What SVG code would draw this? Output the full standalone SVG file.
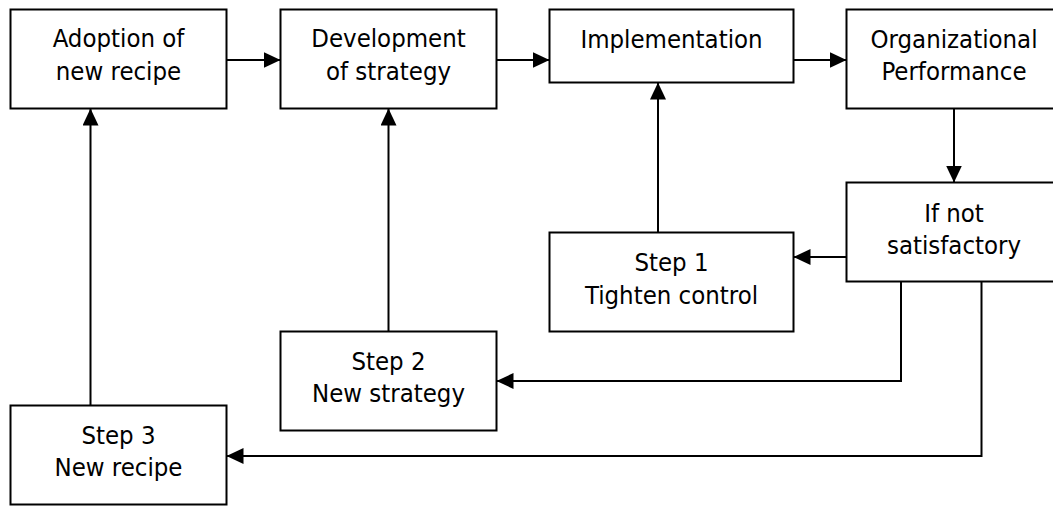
<svg xmlns="http://www.w3.org/2000/svg" width="1053" height="506" viewBox="0 0 1053 506">
  <style>
    .box { fill: #ffffff; stroke: #000000; stroke-width: 2; }
    .lbl { font-family: "DejaVu Sans Condensed", "DejaVu Sans", sans-serif; font-stretch: condensed; font-size: 25.5px; fill: #000000; text-anchor: middle; }
    .wire { fill: none; stroke: #000000; stroke-width: 2; }
    .arrow { marker-end: url(#head); }
  </style>
  <defs>
    <marker id="head" markerUnits="userSpaceOnUse" markerWidth="18" markerHeight="17" refX="17" refY="8" orient="auto">
      <path d="M0,0 L17,8 L0,16 Z" fill="#000000"/>
    </marker>
  </defs>
  <rect width="1053" height="506" fill="#ffffff"/>

  <!-- connectors -->
  <g id="connectors">
    <path class="wire arrow" d="M226.5,60 H280.5"/>
    <path class="wire arrow" d="M496.5,60 H549.5"/>
    <path class="wire arrow" d="M793.5,60 H846.5"/>
    <path class="wire arrow" d="M954,108.5 V182.5"/>
    <path class="wire arrow" d="M846.5,257 H793.5"/>
    <path class="wire arrow" d="M658,232.5 V82.5"/>
    <path class="wire arrow" d="M901,281.5 V381 H496.5"/>
    <path class="wire arrow" d="M981.5,281.5 V456 H226.5"/>
    <path class="wire arrow" d="M388.5,331.5 V108.5"/>
    <path class="wire arrow" d="M90.5,405.5 V108.5"/>
  </g>

  <!-- nodes -->
  <g id="adoption">
    <rect class="box" x="10.5" y="9.5" width="216" height="99"/>
    <text class="lbl" x="118.5" y="47">Adoption of</text>
    <text class="lbl" x="118.5" y="80">new recipe</text>
  </g>
  <g id="development">
    <rect class="box" x="280.5" y="9.5" width="216" height="99"/>
    <text class="lbl" x="388.5" y="47">Development</text>
    <text class="lbl" x="388.5" y="80">of strategy</text>
  </g>
  <g id="implementation">
    <rect class="box" x="549.5" y="9.5" width="244" height="73"/>
    <text class="lbl" x="671.5" y="48">Implementation</text>
  </g>
  <g id="performance">
    <rect class="box" x="846.5" y="9.5" width="215" height="99"/>
    <text class="lbl" x="954" y="48">Organizational</text>
    <text class="lbl" x="954" y="80">Performance</text>
  </g>
  <g id="not-satisfactory">
    <rect class="box" x="846.5" y="182.5" width="215" height="99"/>
    <text class="lbl" x="954" y="221.5">If not</text>
    <text class="lbl" x="954" y="253.5">satisfactory</text>
  </g>
  <g id="step1">
    <rect class="box" x="549.5" y="232.5" width="244" height="99"/>
    <text class="lbl" x="671.5" y="271">Step 1</text>
    <text class="lbl" x="671.5" y="303.5">Tighten control</text>
  </g>
  <g id="step2">
    <rect class="box" x="280.5" y="331.5" width="216" height="99"/>
    <text class="lbl" x="388.5" y="370">Step 2</text>
    <text class="lbl" x="388.5" y="401.5">New strategy</text>
  </g>
  <g id="step3">
    <rect class="box" x="10.5" y="405.5" width="216" height="99"/>
    <text class="lbl" x="118.5" y="444">Step 3</text>
    <text class="lbl" x="118.5" y="476">New recipe</text>
  </g>
</svg>
